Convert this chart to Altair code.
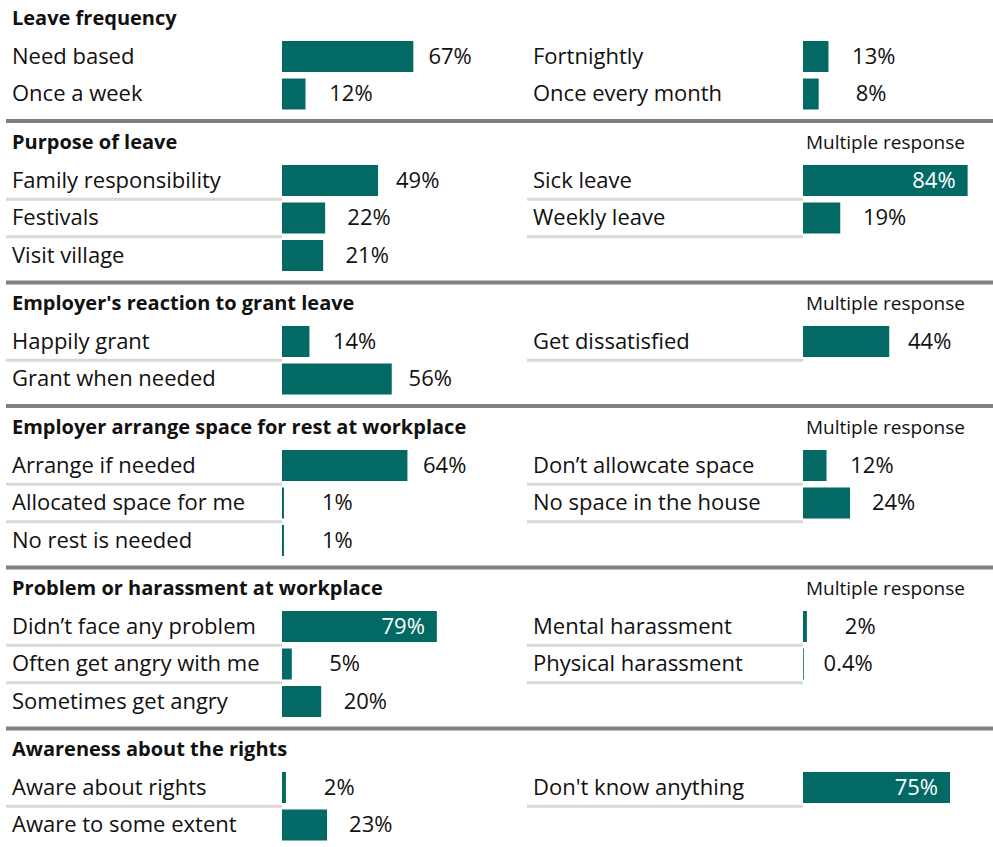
import altair as alt
import pandas as pd

# ---------------- data ----------------
section_titles = [
    "Leave frequency",
    "Purpose of leave",
    "Employer's reaction to grant leave",
    "Employer arrange space for rest at workplace",
    "Problem or harassment at workplace",
    "Awareness about the rights",
]
multiple_flags = [False, True, True, True, True, False]
underline_flags = [False, True, True, True, True, True]

left_labels = [
    ["Need based", "Once a week"],
    ["Family responsibility", "Festivals", "Visit village"],
    ["Happily grant", "Grant when needed"],
    ["Arrange if needed", "Allocated space for me", "No rest is needed"],
    ["Didn\u2019t face any problem", "Often get angry with me", "Sometimes get angry"],
    ["Aware about rights", "Aware to some extent"],
]
left_values = [[67, 12], [49, 22, 21], [14, 56], [64, 1, 1], [79, 5, 20], [2, 23]]

right_labels = [
    ["Fortnightly", "Once every month"],
    ["Sick leave", "Weekly leave"],
    ["Get dissatisfied"],
    ["Don\u2019t allowcate space", "No space in the house"],
    ["Mental harassment", "Physical harassment"],
    ["Don't know anything"],
]
right_values = [[13, 8], [84, 19], [44], [12, 24], [2, 0.4], [75]]

multiple_text = "Multiple response"

# ---------------- style ----------------
FONT = "Open Sans"
TEAL = "#026965"
TXT = "#111111"
ROW = 37.5
LEFT_W = 521
RIGHT_W = 472
FS = 22


def panel(k, labels, values, n, side):
    width = LEFT_W if side == "L" else RIGHT_W
    H = 48.5 + ROW * n
    ys = alt.Scale(domain=[0, n], range=[19, 19 + ROW * n], nice=False,
                   zero=False, padding=0)
    xs = alt.Scale(domain=[0, 100], range=[282, 478], nice=False, padding=0)
    df = pd.DataFrame({"label": labels, "value": values,
                       "row": list(range(1, len(labels) + 1))})
    base = alt.Chart(df)
    layers = []

    if underline_flags[k]:
        layers.append(
            base.transform_filter(f"datum.row < {n}")
            .transform_calculate(uy="datum.row + 0.5")
            .mark_rule(color="#D9D9D9", strokeWidth=3)
            .encode(y=alt.Y("uy:Q", scale=ys, axis=None),
                    x=alt.value(6), x2=alt.value(282))
        )

    layers.append(
        base.mark_text(align="left", baseline="middle", font=FONT, fontSize=FS,
                       color=TXT)
        .encode(x=alt.value(12), y=alt.Y("row:Q", scale=ys, axis=None),
                text="label:N")
    )
    layers.append(
        base.mark_bar(orient="horizontal", size=31, color=TEAL)
        .encode(x=alt.X("value:Q", scale=xs, axis=None),
                y=alt.Y("row:Q", scale=ys, axis=None))
    )
    layers.append(
        base.transform_filter("datum.value < 70")
        .transform_calculate(lx="35.2 + 0.92 * datum.value", vt="datum.value + '%'")
        .mark_text(align="right", baseline="middle", font=FONT, fontSize=FS,
                   color=TXT)
        .encode(x=alt.X("lx:Q", scale=xs, axis=None),
                y=alt.Y("row:Q", scale=ys, axis=None), text="vt:N")
    )
    layers.append(
        base.transform_filter("datum.value >= 70")
        .transform_calculate(vt="datum.value + '%'")
        .mark_text(align="right", baseline="middle", font=FONT, fontSize=FS,
                   color="white", dx=-12)
        .encode(x=alt.X("value:Q", scale=xs, axis=None),
                y=alt.Y("row:Q", scale=ys, axis=None), text="vt:N")
    )

    if side == "L":
        hdf = pd.DataFrame({"t": [section_titles[k]], "row": [0]})
        layers.append(
            alt.Chart(hdf).mark_text(align="left", baseline="middle", font=FONT,
                                     fontSize=20, fontWeight="bold", color=TXT)
            .encode(x=alt.value(12), y=alt.Y("row:Q", scale=ys, axis=None),
                    text="t:N")
        )
    elif multiple_flags[k]:
        hdf = pd.DataFrame({"t": [multiple_text], "row": [0]})
        layers.append(
            alt.Chart(hdf).mark_text(align="right", baseline="middle", font=FONT,
                                     fontSize=19, color=TXT)
            .encode(x=alt.value(444), y=alt.Y("row:Q", scale=ys, axis=None),
                    text="t:N")
        )

    if k < len(section_titles) - 1:
        sdf = pd.DataFrame({"a": [0]})
        layers.append(
            alt.Chart(sdf).mark_rect(color="#808080")
            .encode(x=alt.value(6 if side == "L" else 0), x2=alt.value(width),
                    y=alt.value(H - 4.5), y2=alt.value(H - 0.5))
        )

    return alt.layer(*layers).properties(width=width, height=H)


rows = []
for k in range(len(section_titles)):
    n = max(len(left_labels[k]), len(right_labels[k]))
    left = panel(k, left_labels[k], left_values[k], n, "L")
    right = panel(k, right_labels[k], right_values[k], n, "R")
    rows.append(alt.hconcat(left, right, spacing=0))

chart = (
    alt.vconcat(*rows, spacing=0)
    .properties(padding=0, background="white")
    .configure_view(stroke=None)
)

chart.save("out.html", embed_options={"renderer": "svg", "actions": False})
